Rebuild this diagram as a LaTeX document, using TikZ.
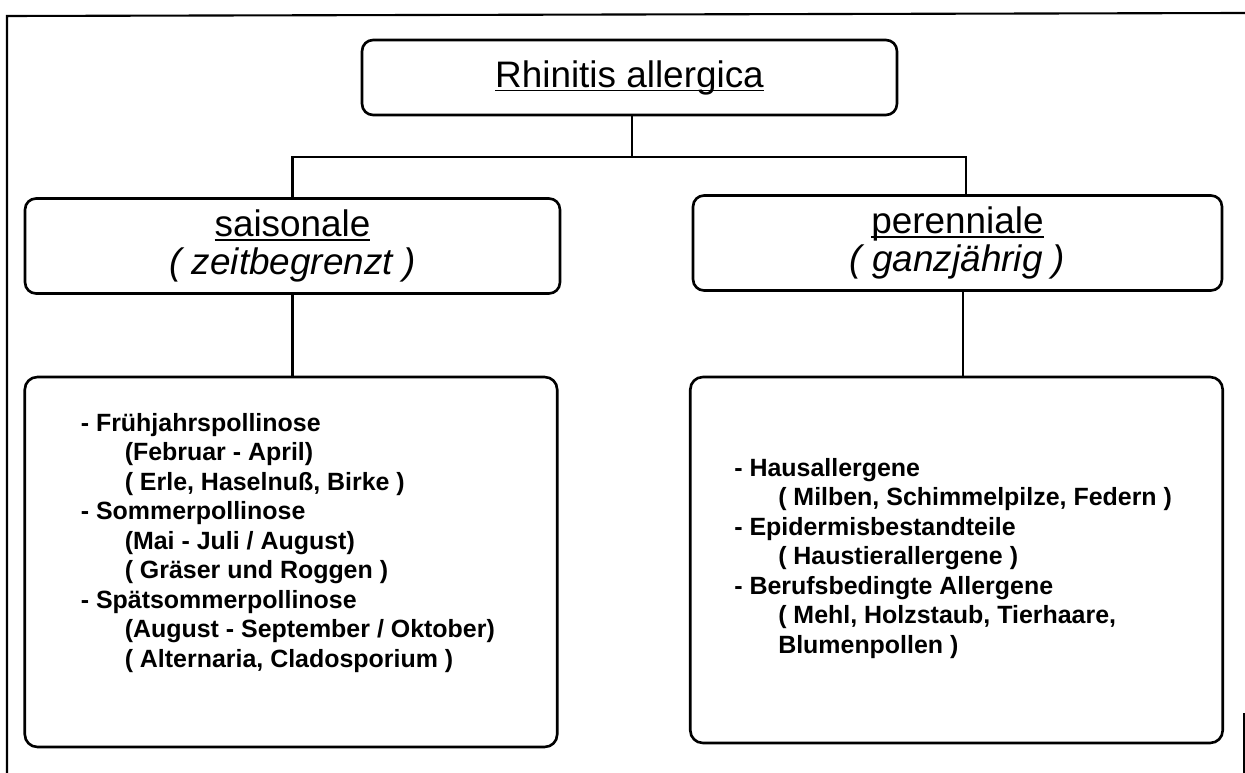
\documentclass[tikz,border=0pt]{standalone}
\usepackage{fontspec}
\setmainfont{Liberation Sans}
\usetikzlibrary{positioning}

\tikzstyle{rootbox} = [rectangle,
rounded corners=0.22cm,
minimum width=10.7cm,
minimum height=1.5cm,
text centered,
draw=black,
line width=1.5pt,
font=\fontsize{21}{21}\selectfont]
\tikzstyle{groupbox} = [rectangle,
rounded corners=0.22cm,
minimum width=10.7cm,
minimum height=1.9cm,
align=center,
draw=black,
line width=1.5pt,
font=\fontsize{21}{21.5}\selectfont]
\tikzstyle{listbox} = [rectangle,
rounded corners=0.25cm,
minimum width=10.65cm,
minimum height=7.35cm,
draw=black,
line width=1.5pt]
\tikzstyle{listtext} = [anchor=north west,
inner sep=0pt,
align=left,
font=\bfseries\fontsize{14.2}{16.8}\selectfont]
\tikzstyle{link} = [line width=1.2pt]
\tikzstyle{frame} = [line width=1.2pt]

\newcommand{\listindent}{\hspace*{25pt}}
\newcommand{\uln}[1]{\setbox0\hbox{#1}\rlap{\rule[-2.5pt]{\wd0}{0.9pt}}\box0}

\begin{document}
\begin{tikzpicture}[x=0.02cm, y=-0.02cm]
\useasboundingbox (0,0) rectangle (1245,773);

% scan border
\draw [frame] (7,773) -- (7,16) -- (1245,13);
\draw [frame] (1244,713) -- (1244,773);

\node (root) [rootbox] at (629.5,77.5) {\uln{Rhinitis allergica}};

\node (sais) [groupbox] at (292.5,246) {\uln{saisonale}\\\textit{( zeitbegrenzt )}};
\node (peren) [groupbox, minimum width=10.58cm] at (957.5,243) {\uln{perenniale}\\\textit{( ganzjährig )}};

\node (saislist) [listbox, minimum height=7.4cm] at (291,562) {};
\node (perenlist) [listbox, minimum height=7.32cm] at (956.5,560) {};

\node (saistext) [listtext] at ([xshift=1.14cm, yshift=-0.74cm]saislist.north west) {%
- Frühjahrspollinose\\
\listindent(Februar - April)\\
\listindent( Erle, Haselnuß, Birke )\\
- Sommerpollinose\\
\listindent(Mai - Juli / August)\\
\listindent( Gräser und Roggen )\\
- Spätsommerpollinose\\
\listindent(August - September / Oktober)\\
\listindent( Alternaria, Cladosporium )};

\node (perentext) [listtext] at ([xshift=0.9cm, yshift=-1.64cm]perenlist.north west) {%
- Hausallergene\\
\listindent( Milben, Schimmelpilze, Federn )\\
- Epidermisbestandteile\\
\listindent( Haustierallergene )\\
- Berufsbedingte Allergene\\
\listindent( Mehl, Holzstaub, Tierhaare,\\
\listindent Blumenpollen )};

\coordinate (fork) at (632,157);

\draw [link] (root.south -| fork) -- (fork);
\draw [link] (sais.north) |- (fork) -| ([xshift=0.17cm]peren.north);
\draw [link] (sais.south) -- (sais.south |- saislist.north);
\draw [link] ([xshift=0.11cm]peren.south) -- ([xshift=0.11cm]peren.south |- perenlist.north);

\end{tikzpicture}
\end{document}
